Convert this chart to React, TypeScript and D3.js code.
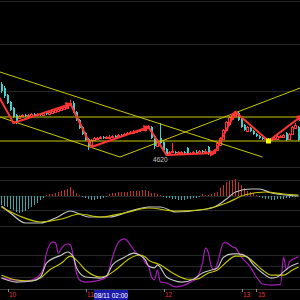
import React from 'react';
import * as d3 from 'd3';

// ---- candle data (price) ----
const opens = [4691,4687,4680,4673,4667,4660,4657,4659,4660,4659, 4659,4661,4660,4661,4660,4662,4661,4662,4663,4664, 4665,4666,4667,4670,4672,4663,4655,4648,4642,4636, 4630,4635,4636,4637,4638,4637,4637,4638,4639,4639, 4640,4640,4641,4642,4642,4643,4644,4645,4645,4647, 4648,4639,4629,4637,4633,4626,4622,4623,4623,4622, 4622,4623,4627,4621,4622,4623,4622,4624,4623,4628, 4622,4623,4625,4630,4636,4645,4651,4656,4659,4662, 4657,4650,4644,4647,4644,4641,4639,4637,4636,4636, 4635,4636,4636,4638,4638,4642,4636,4641,4647,4648];
const closes = [4684,4679,4672,4665,4658,4654,4659,4660,4659,4660, 4661,4660,4661,4660,4662,4661,4663,4664,4665,4666, 4667,4668,4671,4672,4663,4655,4647,4641,4635,4629, 4635,4637,4637,4638,4637,4638,4638,4639,4638,4640, 4639,4641,4642,4643,4643,4644,4645,4646,4647,4648, 4637,4629,4634,4632,4625,4621,4623,4624,4622,4623, 4623,4622,4620,4622,4623,4622,4624,4623,4624,4621, 4623,4625,4632,4637,4645,4653,4658,4661,4663,4655, 4648,4645,4648,4644,4641,4639,4637,4636,4637,4635, 4636,4637,4639,4639,4640,4635,4641,4648,4650,4635];
const highs = [4693,4689,4681,4674,4668,4661,4660,4661,4661,4661, 4662,4662,4662,4662,4663,4663,4664,4665,4667,4667, 4668,4670,4672,4675,4674,4664,4656,4649,4643,4637, 4636,4638,4638,4639,4639,4639,4640,4640,4640,4641, 4641,4642,4643,4644,4645,4645,4646,4647,4648,4650, 4649,4640,4636,4652,4634,4627,4624,4632,4624,4624, 4624,4624,4628,4623,4624,4625,4625,4625,4626,4629, 4624,4626,4633,4638,4646,4654,4659,4662,4664,4663, 4658,4651,4649,4648,4645,4642,4640,4638,4638,4637, 4637,4638,4640,4640,4641,4643,4642,4649,4652,4649];
const lows = [4682,4677,4671,4664,4657,4651,4656,4658,4658,4658, 4658,4659,4659,4659,4659,4660,4660,4661,4662,4663, 4664,4665,4666,4669,4662,4654,4646,4640,4634,4625, 4628,4634,4635,4636,4636,4636,4636,4637,4637,4638, 4638,4639,4640,4641,4641,4642,4643,4644,4644,4646, 4636,4626,4628,4631,4624,4620,4621,4622,4621,4621, 4621,4621,4620,4620,4621,4621,4621,4622,4622,4620, 4621,4622,4624,4629,4635,4644,4650,4655,4658,4654, 4647,4644,4643,4643,4640,4638,4636,4635,4635,4633, 4634,4635,4635,4637,4637,4634,4635,4640,4646,4634];

// ---- zigzag ----
const zzIdx = [-1, 4, 23, 30, 49, 55, 71, 78, 89, 100];
const zzPrice = [4679, 4652, 4671, 4628, 4648, 4620, 4622, 4663, 4634, 4659];

// ---- trend lines (yellow) ----
const trendIdx1 = [-0.5, -0.5, 39.5];
const trendP1 = [4703, 4658, 4618];
const trendIdx2 = [87, 39.5, 99.5];
const trendP2 = [4618, 4618, 4687];
const levels = [4658, 4634];

// ---- MACD ----
const macdHist = [-9,-10,-11,-13,-14,-16,-17,-16,-15,-13, -11,-9,-7,-4,-2,1,2,2,3,4, 5,6,7,9,6,3,1,-1,-2,-3, -4,-4,-3,-3,-2,-1,2,3,3,4, 4,4,4,5,5,5,5,6,6,5, 3,3,2,1,-1,-2,-2,-3,-3,-4, -4,-4,-3,-3,-2,-2,-1,2,1,1, 2,3,4,8,11,14,15,16,17,14, 11,8,5,4,3,1,-1,-2,-3,-3, -4,-4,-3,-3,-3,-2,-2,-1,-1,0];
const difIdx = [0,3,8,13,18,23,26,29,36,43,49,53,58,66,71,75,78,83,86,90,99];
const difVal = [-10,-17,-27,-27,-22,-15,-18,-21,-21,-15,-11,-11,-16,-14,-11,-3,4,7,7,3,0];
const deaIdx = [0,6,13,20,26,33,41,49,58,66,75,81,88,94,99];
const deaVal = [-11,-20,-26,-23,-18,-21,-17,-12,-15,-14,-7,1,4,2,1];

// ---- KDJ ----
const kIdx = [0,5,10,13,15,20,22,24,25,28,33,35,37,41,44,46,48,49,51,52,55,57,60,64,67,70,72,74,77,79,82,84,87,90,92,94,96,99];
const kVal = [17,6,9,20,58,80,88,74,45,20,17,23,53,74,85,80,66,50,45,53,20,12,6,14,31,39,45,74,83,83,74,53,31,17,20,34,47,58];
const dIdx = [0,5,10,13,16,20,23,25,28,33,35,38,43,46,48,49,53,57,62,65,69,72,75,78,81,84,87,90,94,97,99];
const dVal = [25,12,9,17,39,58,77,66,39,20,23,39,72,80,74,66,53,31,14,14,31,39,61,77,77,61,39,25,25,39,47];
const jIdx = [0,4,8,12,14,15,17,18,19,20,22,23,24,25,26,28,33,35,37,39,41,43,45,47,48,49,50,51,52,53,55,58,60,63,65,67,68,69,70,71,72,74,75,77,78,80,83,85,87,90,93,94,95,96,98,99];
const jVal = [17,12,9,20,45,85,115,113,85,99,110,107,74,31,12,6,12,20,74,115,124,107,85,74,58,50,20,12,39,6,4,-7,-5,6,17,58,99,85,47,39,58,113,113,102,99,74,47,20,1,-2,0,74,39,61,72,74];

// ---- axis ----
const dateIdx = [2, 28, 54, 80, 85];
const dateLabels = ['10', '11', '12', '13', '15'];
const cursorIdx = 31;
const cursorLabel = '08/11 02:00';
const mainGrid = [4774, 4731, 4684];
const macdGrid = [29, 16, 0, -14, -30];
const kdjGrid = [80, 50, 20];

const UP = '#ff3535';
const DOWN = '#3fd0d0';
const YEL = '#c8c800';
const FONT = '"Liberation Sans", Arial, sans-serif';

export default function App() {
  const W = 300, H = 300;
  const x = d3.scaleLinear().domain([0, 99]).range([1.5, 298.5]);
  const yP = d3.scaleLinear().domain([4620, 4775]).range([155, 0]);
  const yM = d3.scaleLinear().domain([-30, 30]).range([226, 166]);
  const yK = d3.scaleLinear().domain([0, 100]).range([284.33, 247.67]);

  const mline = (idx: number[], vals: number[], ys: any) =>
    d3.line<number>().x((_, i) => x(idx[i])).y((v) => ys(v)).curve(d3.curveMonotoneX)(vals) || '';

  const lowVal = d3.min(lows) as number;
  const lowIdx = lows.indexOf(lowVal);
  const axisY = 289;

  return (
    <svg width={W} height={H} style={{ position: 'fixed', left: 0, top: 0, background: '#000', display: 'block' }}>
      <defs>
        <clipPath id="mainClip"><rect x={0} y={0} width={W} height={158} /></clipPath>
        <clipPath id="kdjClip"><rect x={0} y={229} width={W} height={axisY - 229} /></clipPath>
        <marker id="arr" viewBox="0 0 10 10" refX="7" refY="5" markerWidth="3.5" markerHeight="3.5" orient="auto">
          <path d="M0,0L10,5L0,10z" fill={UP} />
        </marker>
      </defs>
      <rect x={0} y={0} width={W} height={H} fill="#000" />

      {/* grid */}
      {mainGrid.map((g, i) => (
        <line key={'mg' + i} x1={0} x2={W} y1={Math.round(yP(g)) + 0.5} y2={Math.round(yP(g)) + 0.5} stroke="#262626" />
      ))}
      {macdGrid.map((g, i) => (
        <line key={'dg' + i} x1={0} x2={W} y1={Math.round(yM(g)) + 0.5} y2={Math.round(yM(g)) + 0.5} stroke="#262626" />
      ))}
      {kdjGrid.map((g, i) => (
        <line key={'kg' + i} x1={0} x2={W} y1={Math.round(yK(g)) + 0.5} y2={Math.round(yK(g)) + 0.5} stroke="#262626" />
      ))}
      <line x1={0} x2={W} y1={axisY + 0.5} y2={axisY + 0.5} stroke="#3a3a3a" />

      {/* main chart */}
      <g clipPath="url(#mainClip)">
        {opens.map((o, i) => {
          const c = closes[i];
          const up = c >= o;
          const cx = x(i);
          const top = yP(Math.max(o, c));
          const bot = yP(Math.min(o, c));
          const col = up ? UP : DOWN;
          return (
            <g key={'c' + i} shapeRendering="crispEdges">
              <line x1={cx} x2={cx} y1={yP(highs[i])} y2={yP(lows[i])} stroke={col} />
              {up ? (
                <rect x={cx - 1} y={top} width={2} height={Math.max(1, bot - top)} fill="#000" stroke={col} />
              ) : (
                <rect x={cx - 1} y={top} width={2} height={Math.max(1, bot - top)} fill={col} />
              )}
            </g>
          );
        })}

        {levels.map((l, i) => (
          <line key={'lv' + i} x1={0} x2={W} y1={yP(l)} y2={yP(l)} stroke={YEL} strokeWidth={1} />
        ))}
        {trendIdx1.map((t, i) => (
          <line key={'tr' + i} x1={x(t)} y1={yP(trendP1[i])} x2={x(trendIdx2[i])} y2={yP(trendP2[i])} stroke={YEL} strokeWidth={1} />
        ))}

        {zzIdx.slice(0, -1).map((zi, k) => {
          const up = zzPrice[k + 1] > zzPrice[k];
          return (
            <line key={'zz' + k} x1={x(zi)} y1={yP(zzPrice[k])} x2={x(zzIdx[k + 1])} y2={yP(zzPrice[k + 1])}
              stroke={UP} strokeWidth={2} strokeLinecap="round" markerEnd={up ? 'url(#arr)' : undefined} />
          );
        })}
        <rect x={x(zzIdx[8]) - 2.5} y={yP(zzPrice[8]) - 2.5} width={5} height={5} fill="#ffff00" />
      </g>
      <text x={x(lowIdx) + 1} y={161.5} fill="#c8c8c8" fontSize={6.5} fontFamily={FONT} textAnchor="end">{lowVal}</text>

      {/* MACD */}
      {macdHist.map((v, i) => (
        <line key={'h' + i} x1={x(i)} x2={x(i)} y1={yM(0)} y2={yM(v)} stroke={v >= 0 ? '#c83030' : '#3aa8a8'} strokeWidth={1} />
      ))}
      <path d={mline(difIdx, difVal, yM)} fill="none" stroke="#c4c4c4" strokeWidth={1.2} />
      <path d={mline(deaIdx, deaVal, yM)} fill="none" stroke={YEL} strokeWidth={1.2} />

      {/* KDJ */}
      <g clipPath="url(#kdjClip)">
        <path d={mline(jIdx, jVal, yK)} fill="none" stroke="#a81cb8" strokeWidth={1.2} />
        <path d={mline(dIdx, dVal, yK)} fill="none" stroke={YEL} strokeWidth={1.1} />
        <path d={mline(kIdx, kVal, yK)} fill="none" stroke="#c8c8c8" strokeWidth={1.1} />
      </g>

      {/* x axis */}
      {dateIdx.map((di, i) => (
        <g key={'d' + i}>
          <line x1={Math.round(x(di)) + 0.5} x2={Math.round(x(di)) + 0.5} y1={axisY} y2={axisY + 3} stroke="#888" />
          <text x={x(di) + 1.5} y={297} fill="#e03030" fontSize={6.5} fontFamily={FONT}>{dateLabels[i]}</text>
        </g>
      ))}
      <rect x={x(cursorIdx) - 0.5} y={290} width={34} height={10} fill="#1c1caa" />
      <text x={x(cursorIdx) + 16.5} y={297.5} fill="#fff" fontSize={6.5} fontFamily={FONT} textAnchor="middle">{cursorLabel}</text>
    </svg>
  );
}
